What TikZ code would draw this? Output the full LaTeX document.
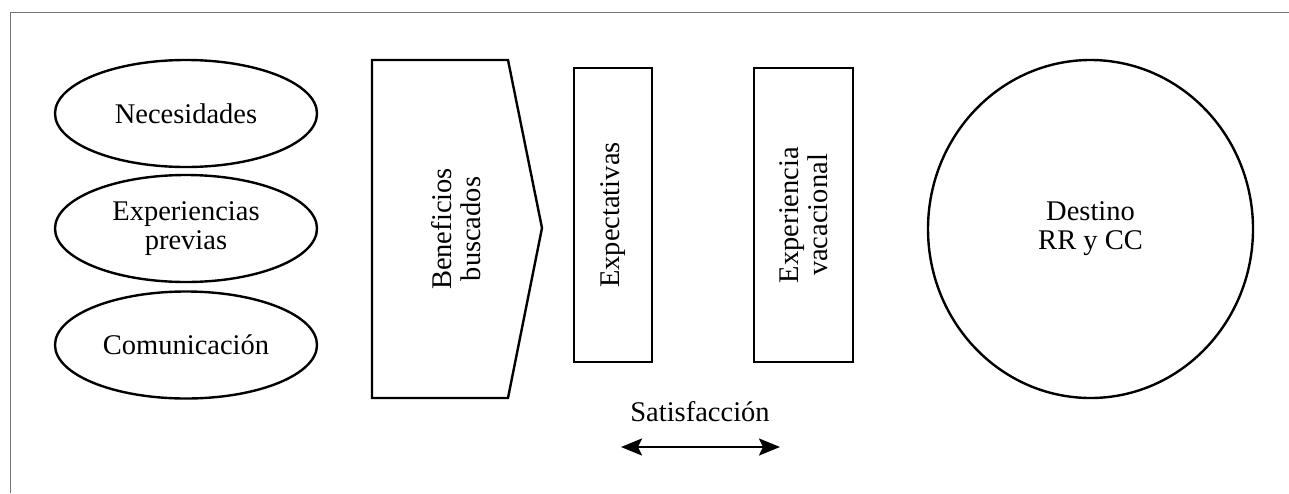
\documentclass[tikz,border=0pt]{standalone}
\usepackage{fontspec}
\setmainfont{Liberation Serif}
\usetikzlibrary{shapes.geometric,arrows.meta}
\begin{document}
\begin{tikzpicture}[x=1pt,y=-1pt,
  >={Stealth[length=21pt,width=17pt,inset=4pt]},
  txt/.style={font=\fontsize{28.5}{29}\selectfont, align=center, inner sep=0pt},
  oval/.style={ellipse, draw, line width=2.4pt, minimum width=262pt, minimum height=107pt, inner sep=0pt, txt},
  bar/.style={draw, line width=2.4pt, inner sep=0pt, txt},
  frame/.style={draw=black!55, line width=1.8pt}]
\useasboundingbox (0,0) rectangle (1289,493);
% frame
\draw[frame] (10.5,493) -- (10.5,12.5) -- (1289,12.5);
% ellipses
\node[oval] (nec) at (186,113.5) {Necesidades};
\node[oval] (exp) at (186,228.5) {Experiencias\\previas};
\node[oval] (com) at (186,345) {Comunicaci\'on};
% pentagon
\draw[line width=2.4pt, line join=miter] (372,60) -- (508,60) -- (542,228) -- (508,398) -- (372,398) -- cycle;
\node[txt, rotate=90] (ben) at (456,229) {Beneficios\\buscados};
% rectangles
\node[bar, minimum width=78pt, minimum height=294pt] (expt) at (613,215) {};
\node[txt, rotate=90] (exptl) at (expt.center) {Expectativas};
\node[bar, minimum width=99pt, minimum height=294pt] (vac) at (803.5,215) {};
\node[txt, rotate=90] (vacl) at (vac.center) {Experiencia\\vacacional};
% destination
\node[ellipse, draw, line width=2.4pt, minimum width=325pt, minimum height=338pt, inner sep=0pt, txt] (dest) at (1090.5,229) {Destino\\RR y CC};
% satisfaction
\node[txt] (sat) at (700,412) {Satisfacci\'on};
\coordinate (al) at (621,447);
\coordinate (ar) at (780,447);
\draw[line width=2.2pt, <->] (al) -- (ar);
\end{tikzpicture}
\end{document}
